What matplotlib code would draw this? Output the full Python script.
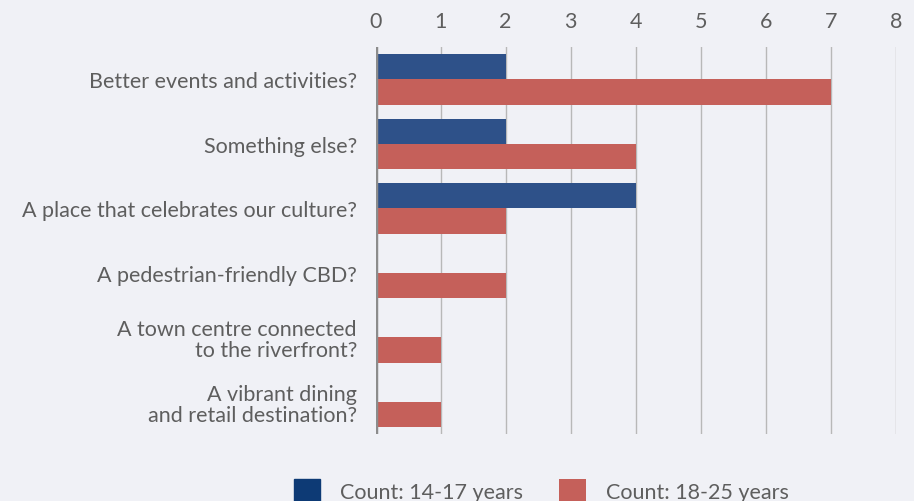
import matplotlib.pyplot as plt
import numpy as np

categories = [
    "Better events and activities?",
    "Something else?",
    "A place that celebrates our culture?",
    "A pedestrian-friendly CBD?",
    "A town centre connected\nto the riverfront?",
    "A vibrant dining\nand retail destination?",
]
count_14_17 = [2, 2, 4, 0, 0, 0]
count_18_25 = [7, 4, 2, 2, 1, 1]

bg = "#f0f1f6"
blue = "#2e5189"
red = "#c5605a"
txt = "#5e5e5e"

plt.rcParams["font.family"] = ["Lato", "DejaVu Sans"]

fig = plt.figure(figsize=(9.14, 5.02), dpi=100, facecolor=bg)
ax = fig.add_axes([0.411, 0.133, 0.569, 0.771], facecolor=bg)

y = np.arange(len(categories))
h = 0.39
ax.barh(y - h / 2, count_14_17, height=h, color=blue, label="Count: 14-17 years", zorder=3)
ax.barh(y + h / 2, count_18_25, height=h, color=red, label="Count: 18-25 years", zorder=3)

ax.set_xlim(0, 8)
ax.set_ylim(len(categories) - 0.5, -0.5)
ax.set_xticks(range(0, 9))
ax.xaxis.tick_top()
ax.tick_params(axis="x", length=0, pad=12, labelsize=15.5, labelcolor=txt)
ax.set_yticks(y)
ax.set_yticklabels(categories, fontsize=15.5, color=txt, linespacing=1.05)
ax.tick_params(axis="y", length=0, pad=13.5)

ax.grid(axis="x", color="#b8b8b8", linewidth=1, zorder=0)
for s in ax.spines.values():
    s.set_visible(False)
ax.axvline(0, color="#8c8c8c", linewidth=2.5, zorder=4)

leg = fig.legend(loc="lower center", bbox_to_anchor=(0.592, -0.04), ncol=2, frameon=False,
                 fontsize=15.5, handlelength=1.25, handleheight=1.25, columnspacing=1.7,
                 handletextpad=0.9)
leg.legend_handles[0].set_color("#0d3a75")
for t in leg.get_texts():
    t.set_color(txt)

fig.savefig("out.png", dpi=100, facecolor=bg)
